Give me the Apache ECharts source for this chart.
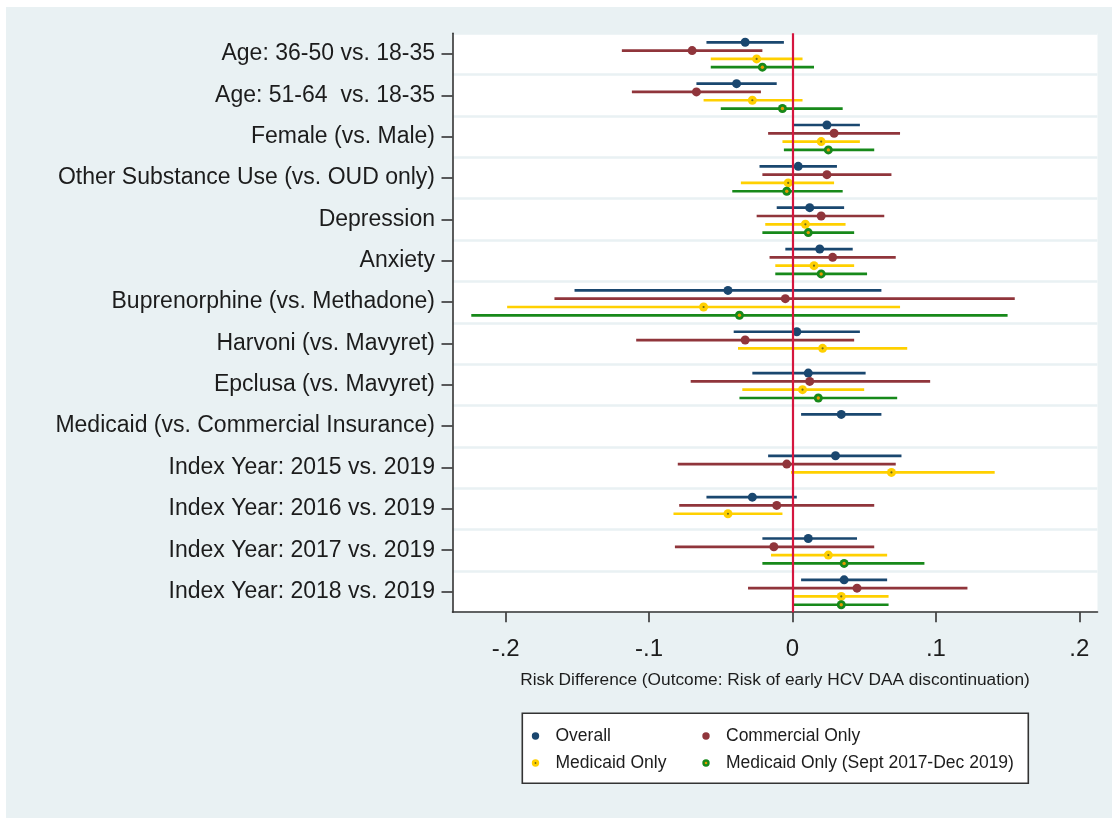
<!DOCTYPE html>
<html>
<head>
<meta charset="utf-8">
<title>Risk Difference – early HCV DAA discontinuation</title>
<script src="https://cdn.jsdelivr.net/npm/echarts@6/dist/echarts.min.js"></script>
<style>
  html, body { margin: 0; padding: 0; background: #ffffff; }
  #chart { position: absolute; left: 6px; top: 7px; width: 1106px; height: 811px; background: #e9f1f3; }
</style>
</head>
<body>
<div id="chart"></div>
<script>
// Covariates, top to bottom
const categories = [
  'Age: 36-50 vs. 18-35',
  'Age: 51-64  vs. 18-35',
  'Female (vs. Male)',
  'Other Substance Use (vs. OUD only)',
  'Depression',
  'Anxiety',
  'Buprenorphine (vs. Methadone)',
  'Harvoni (vs. Mavyret)',
  'Epclusa (vs. Mavyret)',
  'Medicaid (vs. Commercial Insurance)',
  'Index Year: 2015 vs. 2019',
  'Index Year: 2016 vs. 2019',
  'Index Year: 2017 vs. 2019',
  'Index Year: 2018 vs. 2019'
];

// Risk difference estimates with 95% CI (null = not estimated in that cohort)
const overallEst = [-0.033, -0.039, 0.024, 0.004, 0.012, 0.019, -0.045, 0.003, 0.011, 0.034, 0.030, -0.028, 0.011, 0.036];
const overallLo  = [-0.060, -0.067, 0.001, -0.023, -0.011, -0.005, -0.152, -0.041, -0.028, 0.006, -0.017, -0.060, -0.021, 0.006];
const overallHi  = [-0.006, -0.011, 0.047, 0.031, 0.036, 0.042, 0.062, 0.047, 0.051, 0.062, 0.076, 0.003, 0.045, 0.066];

const commercialEst = [-0.070, -0.067, 0.029, 0.024, 0.020, 0.028, -0.005, -0.033, 0.012, null, -0.004, -0.011, -0.013, 0.045];
const commercialLo  = [-0.119, -0.112, -0.017, -0.021, -0.025, -0.016, -0.166, -0.109, -0.071, null, -0.080, -0.079, -0.082, -0.031];
const commercialHi  = [-0.021, -0.022, 0.075, 0.069, 0.064, 0.072, 0.155, 0.043, 0.096, null, 0.072, 0.057, 0.057, 0.122];

const medicaidEst = [-0.025, -0.028, 0.020, -0.003, 0.009, 0.015, -0.062, 0.021, 0.007, null, 0.069, -0.045, 0.025, 0.034];
const medicaidLo  = [-0.057, -0.062, -0.007, -0.036, -0.019, -0.012, -0.199, -0.038, -0.035, null, -0.001, -0.083, -0.015, 0.001];
const medicaidHi  = [0.007, 0.007, 0.047, 0.029, 0.037, 0.043, 0.075, 0.080, 0.050, null, 0.141, -0.007, 0.066, 0.067];

const medSeptEst = [-0.021, -0.007, 0.025, -0.004, 0.011, 0.020, -0.037, null, 0.018, null, null, null, 0.036, 0.034];
const medSeptLo  = [-0.057, -0.050, -0.006, -0.042, -0.021, -0.012, -0.224, null, -0.037, null, null, null, -0.021, 0.001];
const medSeptHi  = [0.015, 0.035, 0.057, 0.035, 0.043, 0.052, 0.150, null, 0.073, null, null, null, 0.092, 0.067];

const xTicks = [-0.2, -0.1, 0, 0.1, 0.2];

const seriesNames = ['Overall', 'Commercial Only', 'Medicaid Only', 'Medicaid Only (Sept 2017-Dec 2019)'];

const FONT = "'Liberation Sans', Arial, Helvetica, sans-serif";
const TEXT = '#1c1c1c';
const NAVY = '#1a476f', MAROON = '#90353b', GOLD = '#ffd000', GREEN = '#17891a';
const ORANGE = '#e59a00', DOT = '#6e6a1a';

function rows(est, lo, hi) {
  const out = [];
  est.forEach((e, i) => { if (e !== null) out.push([i, lo[i], e, hi[i]]); });
  return out;
}

// Each cohort gets its own vertical slot inside a category band
function ciRenderer(color, offset, kind) {
  return function (params, api) {
    const c = api.value(0);
    const a = api.coord([api.value(1), c]);
    const e = api.coord([api.value(2), c]);
    const b = api.coord([api.value(3), c]);
    const y = e[1] + offset;
    const kids = [
      { type: 'line', shape: { x1: a[0], y1: y, x2: b[0], y2: y },
        style: { stroke: color, lineWidth: 2.7, lineCap: 'butt' } },
      { type: 'circle', shape: { cx: e[0], cy: y, r: 4.5 }, style: { fill: color } }
    ];
    if (kind === 'dot') {
      kids.push({ type: 'circle', shape: { cx: e[0], cy: y, r: 1.1 }, style: { fill: DOT } });
    } else if (kind === 'ring') {
      kids.push({ type: 'circle', shape: { cx: e[0], cy: y, r: 1.7 }, style: { fill: ORANGE } });
    }
    return { type: 'group', children: kids };
  };
}

function iconSvg(fill, inner, innerR) {
  let svg = "<svg xmlns='http://www.w3.org/2000/svg' width='30' height='8' viewBox='0 0 30 8'>" +
    "<circle cx='15' cy='4' r='3.7' fill='" + fill + "'/>";
  if (inner) svg += "<circle cx='15' cy='4' r='" + innerR + "' fill='" + inner + "'/>";
  svg += '</svg>';
  return 'image://data:image/svg+xml;charset=utf-8,' + encodeURIComponent(svg);
}

const icons = {
  'Overall': iconSvg(NAVY),
  'Commercial Only': iconSvg(MAROON),
  'Medicaid Only': iconSvg(GOLD, DOT, 0.9),
  'Medicaid Only (Sept 2017-Dec 2019)': iconSvg(GREEN, ORANGE, 1.3)
};

function tickText(v) {
  if (v === 0) return '0';
  const s = String(Math.abs(v)).replace(/^0/, '');
  return (v < 0 ? '-' : '') + s;
}

const legendCommon = {
  orient: 'vertical',
  padding: 0,
  itemWidth: 30,
  itemHeight: 8,
  itemGap: 9,
  selectedMode: false,
  textStyle: { fontFamily: FONT, fontSize: 17.5, color: TEXT, lineHeight: 18 }
};

const chart = echarts.init(document.getElementById('chart'), null, { renderer: 'canvas' });

chart.setOption({
  backgroundColor: '#e9f1f3',
  animation: false,
  grid: {
    left: 446.5, right: 14.5, top: 26.3, bottom: 205.8,
    show: true, backgroundColor: '#ffffff', borderWidth: 0
  },
  xAxis: {
    type: 'value',
    min: -0.2371, max: 0.2127,
    name: 'Risk Difference (Outcome: Risk of early HCV DAA discontinuation)',
    nameLocation: 'middle',
    nameGap: 60,
    nameTextStyle: { fontFamily: FONT, fontSize: 17.3, color: TEXT },
    axisLine: { show: true, onZero: false, lineStyle: { color: '#333333', width: 1.6 } },
    axisTick: { show: true, customValues: xTicks, length: 10, lineStyle: { color: '#333333', width: 1.6 } },
    axisLabel: { customValues: xTicks, formatter: tickText, fontFamily: FONT, fontSize: 24, color: TEXT, margin: 25 },
    splitLine: { show: false }
  },
  yAxis: {
    type: 'category',
    inverse: true,
    data: categories,
    axisLine: { show: true, onZero: false, lineStyle: { color: '#333333', width: 1.6 } },
    axisTick: { show: true, alignWithLabel: true, length: 11, lineStyle: { color: '#333333', width: 1.6 } },
    axisLabel: { fontFamily: FONT, fontSize: 23, color: TEXT, margin: 17.5, padding: [6, 0, 0, 0] },
    splitLine: { show: true, lineStyle: { color: '#e9f1f3', width: 2.6 } }
  },
  legend: [
    Object.assign({ left: 514.5, top: 720,
      data: [
        { name: 'Overall', icon: icons['Overall'] },
        { name: 'Medicaid Only', icon: icons['Medicaid Only'] }
      ] }, legendCommon),
    Object.assign({ left: 685, top: 720,
      data: [
        { name: 'Commercial Only', icon: icons['Commercial Only'] },
        { name: 'Medicaid Only (Sept 2017-Dec 2019)', icon: icons['Medicaid Only (Sept 2017-Dec 2019)'] }
      ] }, legendCommon)
  ],
  graphic: [{
    type: 'rect',
    left: 515.5, top: 705.5,
    shape: { width: 506, height: 70 },
    style: { fill: '#ffffff', stroke: '#333333', lineWidth: 1.6 },
    z: -1
  }],
  series: [
    { name: seriesNames[0], type: 'custom', data: rows(overallEst, overallLo, overallHi),
      encode: { x: [1, 2, 3], y: 0 }, renderItem: ciRenderer(NAVY, -11.7, 'plain'), itemStyle: { color: NAVY }, z: 3 },
    { name: seriesNames[1], type: 'custom', data: rows(commercialEst, commercialLo, commercialHi),
      encode: { x: [1, 2, 3], y: 0 }, renderItem: ciRenderer(MAROON, -3.4, 'plain'), itemStyle: { color: MAROON }, z: 3 },
    { name: seriesNames[2], type: 'custom', data: rows(medicaidEst, medicaidLo, medicaidHi),
      encode: { x: [1, 2, 3], y: 0 }, renderItem: ciRenderer(GOLD, 4.9, 'dot'), itemStyle: { color: GOLD }, z: 3 },
    { name: seriesNames[3], type: 'custom', data: rows(medSeptEst, medSeptLo, medSeptHi),
      encode: { x: [1, 2, 3], y: 0 }, renderItem: ciRenderer(GREEN, 13.2, 'ring'), itemStyle: { color: GREEN }, z: 3 },
    // null-effect reference line at zero
    { name: 'reference', type: 'line', data: [], z: 6,
      markLine: {
        silent: true, symbol: ['none', 'none'], label: { show: false },
        lineStyle: { color: '#d5163f', width: 2.2, type: 'solid' },
        data: [{ xAxis: 0 }]
      } }
  ]
});
</script>
</body>
</html>
